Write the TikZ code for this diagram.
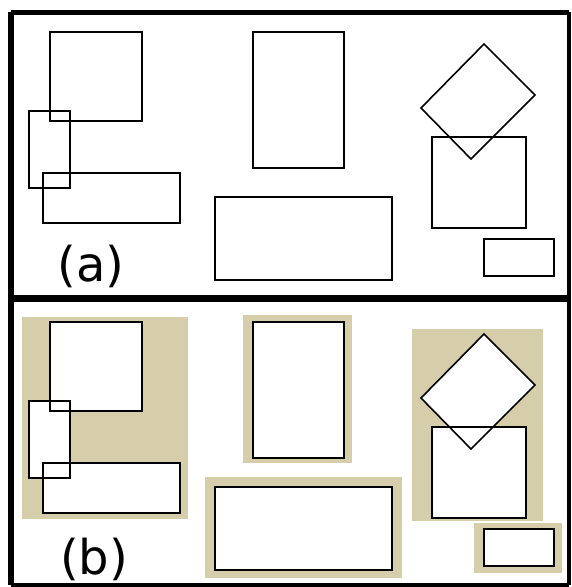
\documentclass[tikz,border=0pt]{standalone}
\usepackage{fontspec}
\setmainfont{DejaVu Sans}
\definecolor{tanbg}{RGB}{214,205,171}
\begin{document}
\begin{tikzpicture}[x=1pt,y=-1pt,
  shp/.style={draw=black,line width=2pt},
  dia/.style={draw=black,line width=1.6pt,line join=miter},
  wfill/.style={fill=white},
  bg/.style={fill=tanbg},
  frame/.style={draw=black,line cap=square},
  lbl/.style={inner sep=0pt,font=\fontsize{48}{56}\selectfont}]
\useasboundingbox (0,0) rectangle (571,587);
\fill[white] (0,0) rectangle (571,587);
% ---------- panel (a)
\draw[shp] (50,32) rectangle (142,121);
\draw[shp] (29,111) rectangle (70,188);
\draw[shp] (43,173) rectangle (180,223);
\draw[shp] (253,32) rectangle (344,168);
\draw[shp] (215,197) rectangle (392,280);
\draw[dia] (484,44) -- (535,95) -- (471,159) -- (421,108) -- cycle;
\draw[shp] (432,137) rectangle (526,228);
\draw[shp] (484,239) rectangle (554,276);
\node[lbl] (la) at (91,266.5) {(a)};
% ---------- panel (b)
\fill[bg] (22,317) rectangle (188,519);
\fill[bg] (243,315) rectangle (352,463);
\fill[bg] (205,477) rectangle (402,578);
\fill[bg] (412,329) rectangle (543,521);
\fill[bg] (474,523) rectangle (562,573);
\begin{scope}[yshift=-290pt]
\fill[wfill] (50,32) rectangle (142,121);
\fill[wfill] (29,111) rectangle (70,188);
\fill[wfill] (43,173) rectangle (180,223);
\fill[wfill] (253,32) rectangle (344,168);
\fill[wfill] (215,197) rectangle (392,280);
\fill[wfill] (484,44) -- (535,95) -- (471,159) -- (421,108) -- cycle;
\fill[wfill] (432,137) rectangle (526,228);
\fill[wfill] (484,239) rectangle (554,276);
\draw[shp] (50,32) rectangle (142,121);
\draw[shp] (29,111) rectangle (70,188);
\draw[shp] (43,173) rectangle (180,223);
\draw[shp] (253,32) rectangle (344,168);
\draw[shp] (215,197) rectangle (392,280);
\draw[dia] (484,44) -- (535,95) -- (471,159) -- (421,108) -- cycle;
\draw[shp] (432,137) rectangle (526,228);
\draw[shp] (484,239) rectangle (554,276);
\end{scope}
\node[lbl] (lb) at (94,559.5) {(b)};
% ---------- frame
\draw[frame,line width=6pt] (11,12) -- (11,585);
\draw[frame,line width=5pt] (11,12) -- (568.5,12);
\draw[frame,line width=4pt] (568.5,12) -- (568.5,585);
\draw[frame,line width=4pt] (11,585) -- (568.5,585);
\draw[frame,line width=7pt] (11,298) -- (568.5,298);
\end{tikzpicture}
\end{document}
